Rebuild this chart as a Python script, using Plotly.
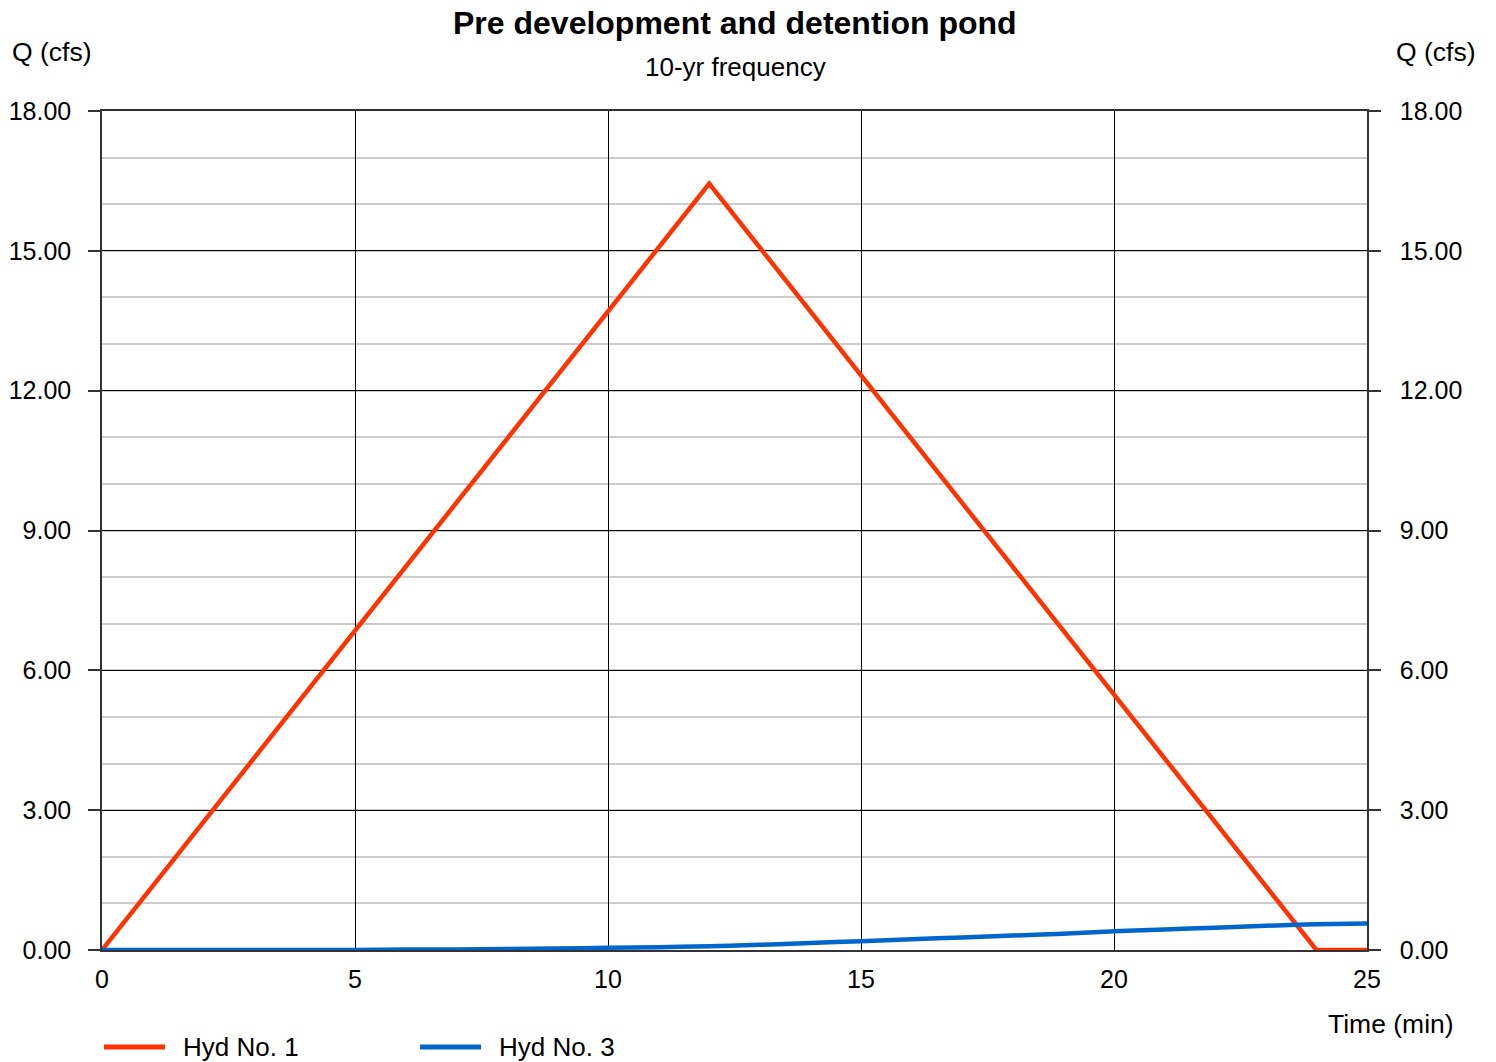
import plotly.graph_objects as go

# Data
hyd1_t = [0, 12, 24, 25]
hyd1_q = [0.0, 16.44, 0.0, 0.0]

hyd3_t = list(range(0, 26))
hyd3_q = [0.00, 0.00, 0.00, 0.00, 0.00, 0.00, 0.01, 0.01, 0.02, 0.03,
          0.05, 0.06, 0.08, 0.11, 0.15, 0.19, 0.23, 0.27, 0.31, 0.35,
          0.40, 0.44, 0.48, 0.52, 0.55, 0.57]

y_ticks = [0, 3, 6, 9, 12, 15, 18]
x_ticks = [0, 5, 10, 15, 20, 25]
series_names = ["Hyd No. 1", "Hyd No. 3"]

FONT = "Liberation Sans, Arial, sans-serif"
RED = "#ff3300"
BLUE = "#0066cc"
TS = 25

# page body has an 8px margin; compensate so the chart lands where the reference is
O = 8
W, H = 1496 - O, 1062 - O
l, t = 102 - O, 111 - O
r = W - (1367 - O)
b = H - (950 - O)
pw, ph = W - l - r, H - t - b


def px2x(px):
    return (px - O - l) / pw


def px2y(py):
    return (H - b - (py - O)) / ph


fig = go.Figure()
fig.add_trace(go.Scatter(x=hyd1_t, y=hyd1_q, mode="lines", name=series_names[0],
                         line=dict(color=RED, width=4.5)))
fig.add_trace(go.Scatter(x=hyd3_t, y=hyd3_q, mode="lines", name=series_names[1],
                         line=dict(color=BLUE, width=4.5, shape="spline")))
# invisible trace for right axis
fig.add_trace(go.Scatter(x=[0, 25], y=[0, 18], yaxis="y2", mode="lines",
                         line=dict(width=0), showlegend=False, hoverinfo="skip"))

annotations = [
    dict(text="<b>Pre development and detention pond</b>", x=px2x(735), y=px2y(23),
         font=dict(size=32)),
    dict(text="10-yr frequency", x=px2x(735), y=px2y(67), font=dict(size=26)),
    dict(text="Q (cfs)", x=px2x(10), y=px2y(52), xanchor="left", font=dict(size=26.5)),
    dict(text="Q (cfs)", x=px2x(1478), y=px2y(52), xanchor="right", font=dict(size=26.5)),
    dict(text="Time (min)", x=px2x(1456), y=px2y(1024), xanchor="right",
         font=dict(size=26.5)),
    dict(text=series_names[0], x=px2x(181), y=px2y(1047), xanchor="left",
         font=dict(size=26)),
    dict(text=series_names[1], x=px2x(497), y=px2y(1047), xanchor="left",
         font=dict(size=26)),
]
for a in annotations:
    a.update(xref="paper", yref="paper", showarrow=False, yanchor="middle")

shapes = [
    dict(type="line", xref="paper", yref="paper", x0=px2x(104), x1=px2x(165),
         y0=px2y(1047), y1=px2y(1047), line=dict(color=RED, width=5)),
    dict(type="line", xref="paper", yref="paper", x0=px2x(420), x1=px2x(481),
         y0=px2y(1047), y1=px2y(1047), line=dict(color=BLUE, width=5)),
]

fig.update_layout(
    width=W, height=H,
    margin=dict(l=l, r=r, t=t, b=b, autoexpand=False),
    paper_bgcolor="white", plot_bgcolor="white",
    font=dict(family=FONT, size=TS, color="black"),
    showlegend=False,
    xaxis=dict(range=[0, 25], tickvals=x_ticks, ticktext=[str(v) for v in x_ticks],
               showgrid=True, gridcolor="black", gridwidth=1,
               showline=True, linecolor="#333", linewidth=1.5, mirror=True,
               ticks="", ticklabelstandoff=6, zeroline=False, automargin=False,
               tickfont=dict(family=FONT, size=TS)),
    yaxis=dict(range=[0, 18], tickvals=y_ticks, tickformat=".2f",
               showgrid=True, gridcolor="black", gridwidth=1,
               minor=dict(dtick=1, showgrid=True, gridcolor="#cccccc", gridwidth=2),
               showline=True, linecolor="#333", linewidth=1.5,
               ticks="outside", ticklen=12, tickcolor="#333", tickwidth=1.5,
               ticklabelstandoff=12, zeroline=False, automargin=False,
               tickfont=dict(family=FONT, size=TS)),
    yaxis2=dict(range=[0, 18], tickvals=y_ticks, tickformat=".2f",
                overlaying="y", side="right", showgrid=False,
                showline=True, linecolor="#333", linewidth=1.5,
                ticks="outside", ticklen=12, tickcolor="#333", tickwidth=1.5,
                ticklabelstandoff=14, zeroline=False, automargin=False,
                tickfont=dict(family=FONT, size=TS)),
    annotations=annotations,
    shapes=shapes,
)

fig.write_html("out.html")
